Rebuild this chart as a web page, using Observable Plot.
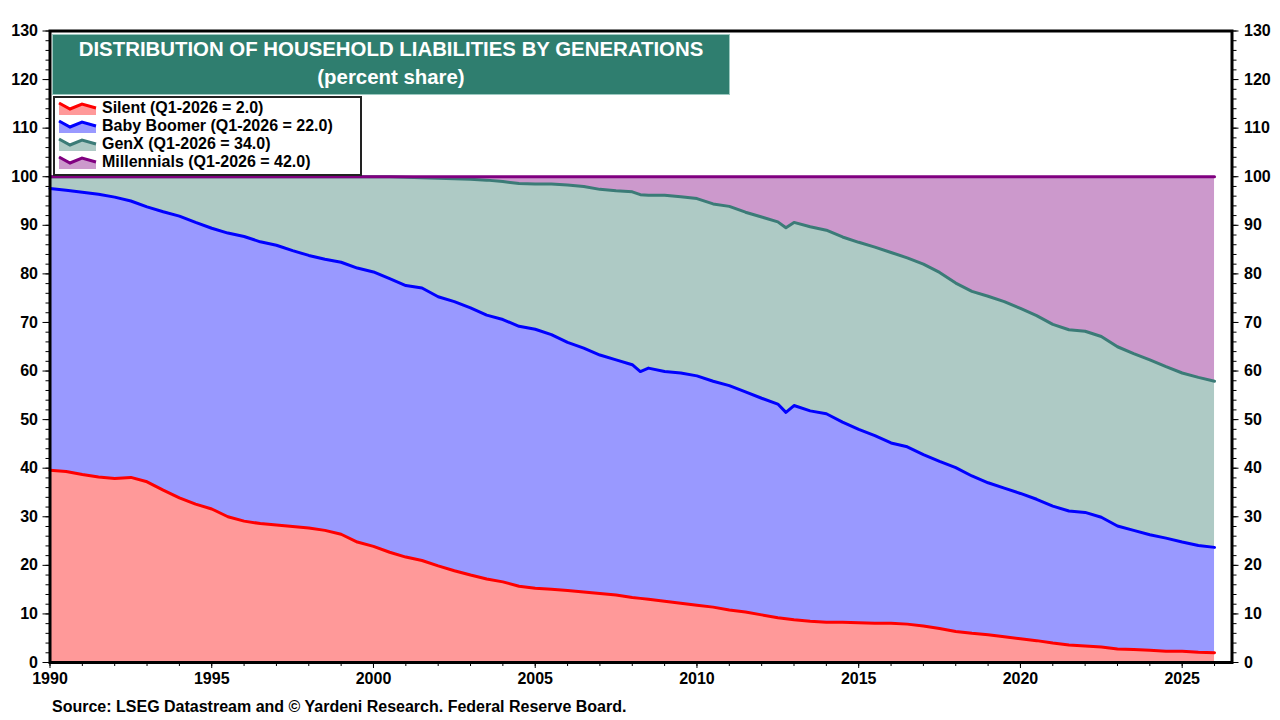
<!DOCTYPE html>
<html>
<head>
<meta charset="utf-8">
<script src="https://cdn.jsdelivr.net/npm/d3@7"></script>
<script src="https://cdn.jsdelivr.net/npm/@observablehq/plot@0.6"></script>
<style>
  html, body { margin: 0; padding: 0; background: #fff; }
  body { width: 1280px; height: 720px; overflow: hidden; font-family: "Liberation Sans", Arial, sans-serif; }
  #wrap { position: relative; width: 1280px; height: 720px; }
  #chart svg { display: block; }
  #titlebox { position: absolute; left: 52px; top: 34px; width: 676px; height: 59px; background: #2f7e6f; border: 1px solid #9cc9c0; color: #fff; font-weight: bold; font-size: 20.4px; text-align: center; line-height: 28px; padding-top: 0px; box-sizing: content-box; }
  #legend { position: absolute; left: 53px; top: 96px; width: 305px; height: 76px; background: #fff; border: 2px solid #222; font-weight: bold; font-size: 16px; color: #000; }
  .row { position: absolute; left: 3px; height: 18px; display: flex; align-items: center; }
  .row svg { width: 40px; height: 14px; margin-right: 4px; }
  #source { position: absolute; left: 52px; top: 698px; font-weight: bold; font-size: 16px; color: #000; }
</style>
</head>
<body>
<div id="wrap">
  <div id="chart"></div>
  <div id="titlebox">DISTRIBUTION OF HOUSEHOLD LIABILITIES BY GENERATIONS<br>(percent share)</div>
  <div id="legend"></div>
  <div id="source">Source: LSEG Datastream and © Yardeni Research. Federal Reserve Board.</div>
</div>
<script>
// Quarterly-ish sample dates (decimal years)
const years = [
  1990, 1990.5, 1991, 1991.5, 1992, 1992.5, 1993, 1993.5, 1994, 1994.5,
  1995, 1995.5, 1996, 1996.5, 1997, 1997.5, 1998, 1998.5, 1999, 1999.5,
  2000, 2000.5, 2001, 2001.5, 2002, 2002.5, 2003, 2003.5, 2004, 2004.5,
  2005, 2005.5, 2006, 2006.5, 2007, 2007.5, 2008, 2008.25, 2008.5, 2009, 2009.5,
  2010, 2010.5, 2011, 2011.5, 2012, 2012.5, 2012.75, 2013, 2013.5, 2014, 2014.5,
  2015, 2015.5, 2016, 2016.5, 2017, 2017.5, 2018, 2018.5, 2019, 2019.5,
  2020, 2020.5, 2021, 2021.5, 2022, 2022.5, 2023, 2023.5, 2024, 2024.5,
  2025, 2025.5, 2026
];
// Percent share of household liabilities
const silent = [
  39.6, 39.3, 38.7, 38.2, 37.9, 38.1, 37.2, 35.5, 33.9, 32.6,
  31.6, 30.0, 29.1, 28.6, 28.3, 28.0, 27.7, 27.2, 26.4, 24.8,
  23.9, 22.7, 21.7, 21.0, 19.9, 18.9, 18.0, 17.2, 16.6, 15.7,
  15.3, 15.1, 14.8, 14.5, 14.2, 13.9, 13.4, 13.2, 13.0, 12.6, 12.2,
  11.8, 11.4, 10.8, 10.4, 9.8, 9.2, 9.0, 8.8, 8.5, 8.3, 8.3,
  8.2, 8.1, 8.1, 7.9, 7.5, 7.0, 6.4, 6.0, 5.7, 5.3,
  4.9, 4.5, 4.0, 3.6, 3.4, 3.2, 2.8, 2.7, 2.5, 2.3,
  2.3, 2.1, 2.0
];
const boomer = [
  58.0, 57.9, 58.1, 58.2, 57.9, 56.9, 56.6, 57.3, 58.0, 58.0,
  57.8, 58.4, 58.6, 58.0, 57.6, 56.8, 56.1, 55.8, 56.0, 56.4,
  56.5, 56.3, 55.9, 56.1, 55.4, 55.4, 55.0, 54.3, 54.0, 53.5,
  53.3, 52.4, 51.1, 50.2, 49.1, 48.4, 47.9, 46.7, 47.6, 47.3, 47.4,
  47.2, 46.5, 46.2, 45.3, 44.6, 44.0, 42.5, 44.1, 43.3, 42.9, 41.2,
  39.8, 38.6, 37.1, 36.5, 35.3, 34.4, 33.7, 32.4, 31.3, 30.6,
  29.9, 29.1, 28.2, 27.6, 27.5, 26.7, 25.3, 24.5, 23.8, 23.3,
  22.5, 22.0, 21.7
];
const genx = [
  2.4, 2.8, 3.2, 3.6, 4.2, 5.0, 6.2, 7.2, 8.1, 9.4,
  10.6, 11.6, 12.3, 13.4, 14.1, 15.2, 16.2, 17.0, 17.6, 18.8,
  19.6, 21.0, 22.3, 22.7, 24.4, 25.3, 26.5, 27.8, 28.4, 29.4,
  29.9, 31.0, 32.4, 33.3, 34.1, 34.8, 35.6, 36.4, 35.6, 36.3, 36.3,
  36.5, 36.5, 36.9, 37.0, 37.3, 37.5, 38.0, 37.7, 37.9, 37.8, 38.1,
  38.5, 38.8, 39.2, 38.9, 39.2, 38.9, 38.0, 38.0, 38.4, 38.4,
  38.1, 37.8, 37.4, 37.3, 37.3, 37.2, 36.9, 36.4, 36.0, 35.3,
  34.8, 34.6, 34.2
];
const millennials = [
  0, 0, 0, 0, 0, 0, 0, 0, 0, 0,
  0, 0, 0, 0, 0, 0, 0, 0, 0, 0,
  0, 0, 0.1, 0.2, 0.3, 0.4, 0.5, 0.7, 1.0, 1.4,
  1.5, 1.5, 1.7, 2.0, 2.6, 2.9, 3.1, 3.7, 3.8, 3.8, 4.1,
  4.5, 5.6, 6.1, 7.3, 8.3, 9.3, 10.5, 9.4, 10.3, 11.0, 12.4,
  13.5, 14.5, 15.6, 16.7, 18.0, 19.7, 21.9, 23.6, 24.6, 25.7,
  27.1, 28.6, 30.4, 31.5, 31.8, 32.9, 35.0, 36.4, 37.7, 39.1,
  40.4, 41.3, 42.1
];
const generations = ["Silent", "Baby Boomer", "GenX", "Millennials"];
const legendLabels = [
  "Silent (Q1-2026 = 2.0)",
  "Baby Boomer (Q1-2026 = 22.0)",
  "GenX (Q1-2026 = 34.0)",
  "Millennials (Q1-2026 = 42.0)"
];
const yTicks = [0, 10, 20, 30, 40, 50, 60, 70, 80, 90, 100, 110, 120, 130];
const xTicks = [1990, 1995, 2000, 2005, 2010, 2015, 2020, 2025];

const fillColors = { "Silent": "#ff9999", "Baby Boomer": "#9999ff", "GenX": "#aecac5", "Millennials": "#cc99cc" };
const lineColors = { "Silent": "#ff0000", "Baby Boomer": "#0000ff", "GenX": "#3b7b77", "Millennials": "#800080" };

const series = { "Silent": silent, "Baby Boomer": boomer, "GenX": genx, "Millennials": millennials };
const rows = [];
for (const g of generations) {
  years.forEach((yr, i) => rows.push({ year: yr, gen: g, value: series[g][i] }));
}

const minorY = d3.range(0, 131, 2);
const minorX = d3.range(1990, 2027, 1);

const chart = Plot.plot({
  width: 1280,
  height: 720,
  marginLeft: 49.5,
  marginRight: 48.5,
  marginTop: 30.5,
  marginBottom: 58,
  style: { fontFamily: "'Liberation Sans', Arial, sans-serif", color: "#000", background: "#fff" },
  x: { domain: [1990, 2026.54], axis: null, label: null },
  y: { domain: [0, 130], axis: null, label: null },
  color: { type: "identity" },
  marks: [
    Plot.areaY(rows, Plot.stackY({ x: "year", y: "value", z: "gen", order: generations, fill: d => fillColors[d.gen] })),
    Plot.lineY(rows, Plot.stackY2({ x: "year", y: "value", z: "gen", order: generations, stroke: d => lineColors[d.gen], strokeWidth: 3 })),
    Plot.axisY(minorY, { anchor: "left", tickSize: 4, tickFormat: () => "", label: null }),
    Plot.axisY(yTicks, { anchor: "left", tickSize: 7, tickPadding: 5, fontSize: 16, fontWeight: "bold", tickFormat: d => String(d), label: null }),
    Plot.axisY(minorY, { anchor: "right", tickSize: 4, tickFormat: () => "", label: null }),
    Plot.axisY(yTicks, { anchor: "right", tickSize: 6, tickPadding: 6, fontSize: 16, fontWeight: "bold", tickFormat: d => String(d), label: null }),
    Plot.axisX(minorX, { anchor: "bottom", tickSize: 4, tickFormat: () => "", label: null }),
    Plot.axisX(xTicks, { anchor: "bottom", tickSize: 6, tickPadding: 4, fontSize: 16, fontWeight: "bold", tickFormat: d => String(d), label: null }),
    Plot.frame({ stroke: "#000", strokeWidth: 3 })
  ]
});
document.getElementById("chart").appendChild(chart);

// Legend
const legend = document.getElementById("legend");
generations.forEach((g, i) => {
  const row = document.createElement("div");
  row.className = "row";
  row.style.top = (1 + i * 18) + "px";
  row.innerHTML =
    `<svg viewBox="0 0 40 14"><polygon points="1,2 12,8 24,3 38,7 38,14 1,14" fill="${fillColors[g]}"/>` +
    `<polyline points="1,2 12,8 24,3 38,7" fill="none" stroke="${lineColors[g]}" stroke-width="3"/></svg>` +
    `<span>${legendLabels[i]}</span>`;
  legend.appendChild(row);
});
</script>
</body>
</html>
